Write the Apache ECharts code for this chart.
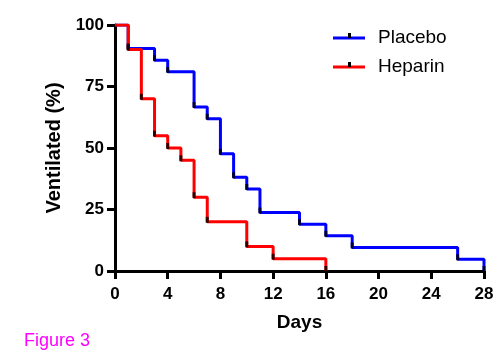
<!DOCTYPE html>
<html>
<head>
<meta charset="utf-8">
<script src="https://cdn.jsdelivr.net/npm/echarts@6/dist/echarts.min.js"></script>
<style>
  html, body { margin: 0; padding: 0; background: #fff; }
  #chart { width: 500px; height: 354px; }
</style>
</head>
<body>
<div id="chart"></div>
<script>
// survival steps
var placeboDays = [0, 1, 3, 4, 6, 7, 8, 9, 10, 11, 14, 16, 18, 26, 28];
var placeboPct = [100, 90.48, 85.71, 80.95, 66.67, 61.9, 47.62, 38.1, 33.33, 23.81, 19.05, 14.29, 9.52, 4.76, 0];
var heparinDays = [0, 1, 2, 3, 4, 5, 6, 7, 10, 12, 16];
var heparinPct = [100, 90, 70, 55, 50, 45, 30, 20, 10, 5, 0];
var xTicks = [0, 4, 8, 12, 16, 20, 24, 28];
var yTicks = [0, 25, 50, 75, 100];

function pairs(xs, ys) {
  return xs.map(function (x, i) { return [x, ys[i]]; });
}

var chart = echarts.init(document.getElementById('chart'));
var font = 'Liberation Sans, Arial, sans-serif';

function stepSeries(name, color, xs, ys) {
  return {
    name: name,
    type: 'line',
    step: 'end',
    data: pairs(xs, ys),
    showSymbol: false,
    lineStyle: { color: color, width: 3 },
    itemStyle: { color: color },
    animation: false,
    z: 2
  };
}

function tickSeries(xs, ys) {
  // black censor-style marks at each drop
  return {
    type: 'scatter',
    data: pairs(xs, ys).slice(1),
    symbol: 'rect',
    symbolSize: [3, 6],
    symbolOffset: [0, -2],
    itemStyle: { color: '#000' },
    animation: false,
    z: 3
  };
}

var option = {
  backgroundColor: '#fff',
  grid: { left: 115, right: 16, top: 25, bottom: 83 },
  xAxis: {
    type: 'value',
    min: 0, max: 28, interval: 4,
    name: 'Days',
    nameLocation: 'middle',
    nameGap: 42,
    nameTextStyle: { fontFamily: font, fontWeight: 'bold', fontSize: 19, color: '#000' },
    axisLine: { lineStyle: { color: '#000', width: 3 } },
    axisTick: { show: true, length: 8, lineStyle: { color: '#000', width: 3 } },
    axisLabel: {
      margin: 15,
      fontFamily: font, fontWeight: 'bold', fontSize: 17, color: '#000',
      formatter: function (v) { return xTicks.indexOf(v) >= 0 ? String(v) : ''; }
    },
    splitLine: { show: false }
  },
  yAxis: {
    type: 'value',
    min: 0, max: 100, interval: 25,
    name: 'Ventilated (%)',
    nameLocation: 'middle',
    nameGap: 50,
    nameTextStyle: { fontFamily: font, fontWeight: 'bold', fontSize: 20, color: '#000' },
    axisLine: { show: true, lineStyle: { color: '#000', width: 3 } },
    axisTick: { show: true, length: 8, lineStyle: { color: '#000', width: 3 } },
    axisLabel: {
      margin: 11,
      fontFamily: font, fontWeight: 'bold', fontSize: 17, color: '#000',
      formatter: function (v) { return yTicks.indexOf(v) >= 0 ? String(v) : ''; }
    },
    splitLine: { show: false }
  },
  series: [
    stepSeries('Placebo', '#0000ff', placeboDays, placeboPct),
    tickSeries(placeboDays, placeboPct),
    stepSeries('Heparin', '#ff0000', heparinDays, heparinPct),
    tickSeries(heparinDays, heparinPct)
  ],
  graphic: [
    { type: 'line', shape: { x1: 333, y1: 38, x2: 365, y2: 38 }, style: { stroke: '#0000ff', lineWidth: 3 } },
    { type: 'rect', shape: { x: 348, y: 33, width: 3, height: 5 }, style: { fill: '#000' } },
    { type: 'text', left: 378, top: 28, style: { text: 'Placebo', font: '19px ' + font, fill: '#000' } },
    { type: 'line', shape: { x1: 333, y1: 67, x2: 365, y2: 67 }, style: { stroke: '#ff0000', lineWidth: 3 } },
    { type: 'rect', shape: { x: 348, y: 62, width: 3, height: 5 }, style: { fill: '#000' } },
    { type: 'text', left: 378, top: 57, style: { text: 'Heparin', font: '19px ' + font, fill: '#000' } },
    { type: 'text', left: 24, top: 332, style: { text: 'Figure 3', font: '18px ' + font, fill: '#ff00ff' } }
  ]
};

chart.setOption(option);
</script>
</body>
</html>
